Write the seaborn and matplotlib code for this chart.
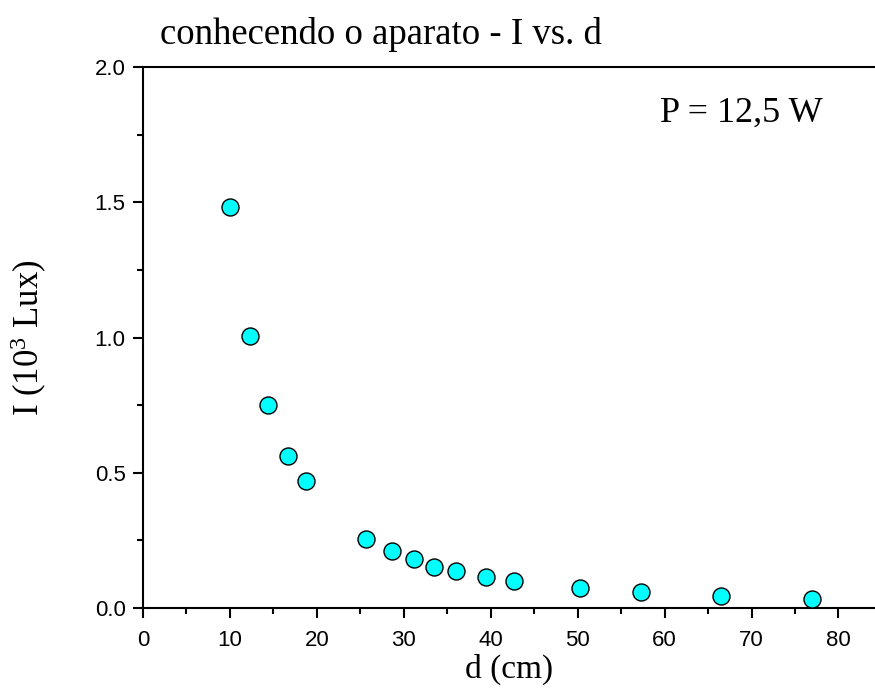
import pandas as pd
import matplotlib
matplotlib.use('Agg')
import matplotlib.pyplot as plt
import seaborn as sns
from matplotlib.ticker import MultipleLocator

# Data
d_cm = [10.0, 12.3, 14.4, 16.7, 18.8, 25.7, 28.7, 31.2, 33.5, 36.0,
        39.5, 42.7, 50.3, 57.3, 66.5, 77.0]
i_klux = [1.482, 1.005, 0.750, 0.562, 0.469, 0.254, 0.211, 0.181, 0.152,
          0.137, 0.116, 0.101, 0.073, 0.058, 0.044, 0.033]

df = pd.DataFrame({'d': d_cm, 'I': i_klux})

sns.set_style('white')
plt.rcParams['font.family'] = ['Liberation Sans', 'DejaVu Sans']
plt.rcParams['mathtext.fontset'] = 'custom'
plt.rcParams['mathtext.rm'] = 'Liberation Serif'
plt.rcParams['mathtext.it'] = 'Liberation Serif:italic'
plt.rcParams['text.color'] = 'black'
plt.rcParams['axes.labelcolor'] = 'black'
plt.rcParams['xtick.color'] = 'black'
plt.rcParams['ytick.color'] = 'black'

fig = plt.figure(figsize=(8.75, 7), dpi=100)
ax = fig.add_axes([0.1634, 0.1314, 0.8366, 0.7726])

sns.scatterplot(x='d', y='I', data=df, ax=ax, s=150, color='#00ffff',
                edgecolor='black', linewidth=1, zorder=3)

ax.set_xlim(0, 84.2)
ax.set_ylim(0, 2.0)
ax.xaxis.set_major_locator(MultipleLocator(10))
ax.xaxis.set_minor_locator(MultipleLocator(5))
ax.yaxis.set_major_locator(MultipleLocator(0.5))
ax.yaxis.set_minor_locator(MultipleLocator(0.25))
ax.yaxis.set_major_formatter(plt.FormatStrFormatter('%.1f'))

ax.spines['right'].set_visible(False)
for s in ['top', 'bottom', 'left']:
    ax.spines[s].set_linewidth(1.5)
    ax.spines[s].set_color('black')

ax.tick_params(which='major', direction='out', length=7.5, width=1.5,
               labelsize=16, bottom=True, left=True, pad=5)
ax.tick_params(axis='x', which='major', pad=8)
ax.tick_params(which='minor', direction='out', length=4.5, width=1.5,
               bottom=True, left=True)

serif = ['Liberation Serif', 'DejaVu Serif']
ax.set_xlabel('d (cm)', family=serif, fontsize=24, labelpad=2)
ax.set_ylabel(r'I (10$^{3}$ Lux)', family=serif, fontsize=25, labelpad=33)

ax.text(0.928, 0.915, 'P = 12,5 W', transform=ax.transAxes, ha='right',
        va='center', family=serif, fontsize=26)
fig.text(160 / 875, 1 - 35 / 700, 'conhecendo o aparato - I vs. d',
         family=serif, fontsize=26.5, ha='left', va='center')

fig.savefig('out.png', dpi=100)
